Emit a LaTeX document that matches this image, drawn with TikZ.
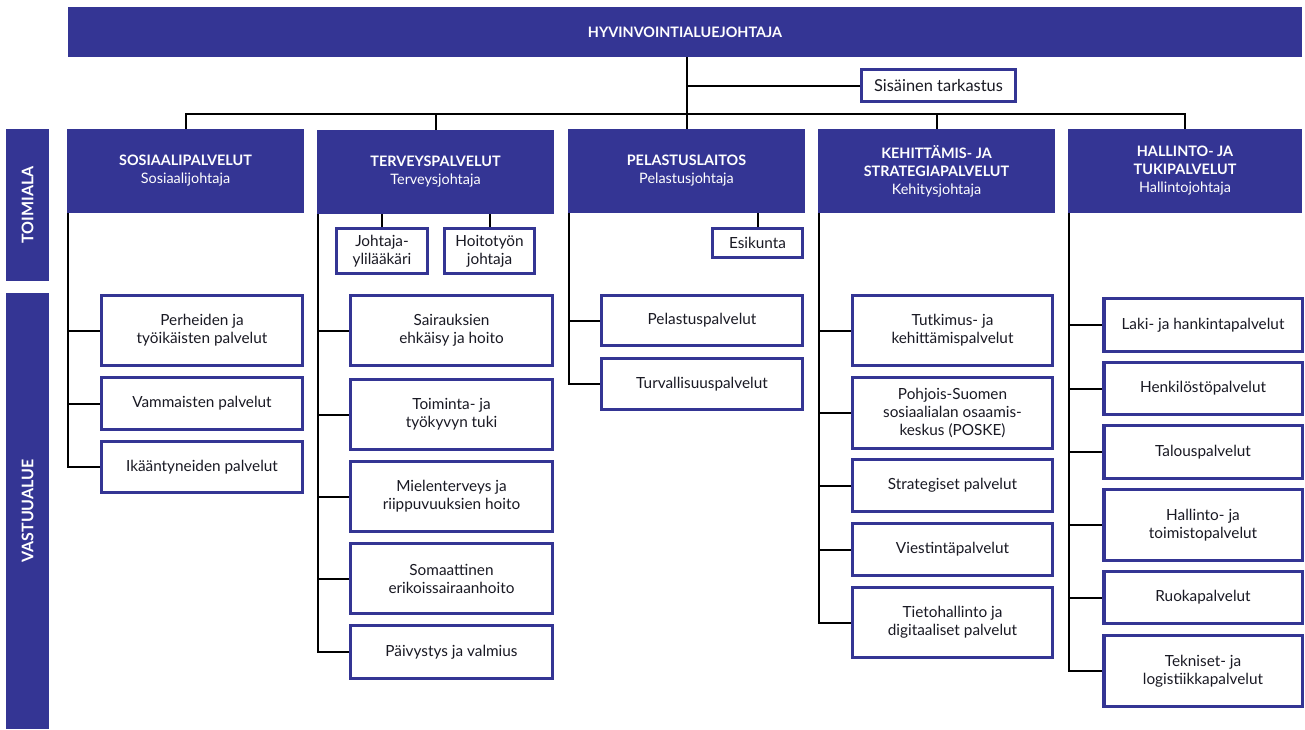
\documentclass[tikz,border=0pt]{standalone}
\usepackage{fontspec}
\setmainfont{Lato}
\usetikzlibrary{calc}
\definecolor{hvblue}{RGB}{52,53,148}
\definecolor{ink}{RGB}{25,25,35}
\tikzset{
  wh/.style 2 args={minimum width=#1*0.75pt, minimum height=#2*0.75pt},
  head/.style={fill=hvblue, text=white, inner sep=0pt, align=center,
    font=\fontsize{10.8}{13.5}\selectfont\bfseries},
  side/.style={head, rotate=90, font=\fontsize{12}{13}\selectfont\bfseries},
  unit/.style={draw=hvblue, line width=2.6pt, fill=white, text=ink, inner sep=0pt,
    align=center, font=\fontsize{11.5}{13.5}\selectfont},
  link/.style={line width=1.5pt, black},
}

\begin{document}
\begin{tikzpicture}[x=0.75pt, y=-0.75pt]
\useasboundingbox (0,0) rectangle (1305,729);
% top level
\node[head, wh={1234}{50}] (top) at (685,32) {HYVINVOINTIALUEJOHTAJA};
\node[unit, wh={153.5}{31.5}, font=\fontsize{12.3}{13.5}\selectfont] (sis) at (938.5,85.5) {Sisäinen tarkastus};
\coordinate (bus) at (686.5,114);
% side labels
\node[side, wh={152}{43}] (toimiala) at (27.5,205) {TOIMIALA};
\node[side, wh={436}{43}] (vastuu) at (27.5,511) {VASTUUALUE};
% toimialat
\node[head, wh={237}{84}] (sos) at (185.5,171) {SOSIAALIPALVELUT\\ \mdseries Sosiaalijohtaja};
\node[head, wh={237}{84}] (ter) at (435.5,172) {TERVEYSPALVELUT\\ \mdseries Terveysjohtaja};
\node[head, wh={237}{84}] (pel) at (686.5,171) {PELASTUSLAITOS\\ \mdseries Pelastusjohtaja};
\node[head, wh={237}{84}] (keh) at (936.5,171) {KEHITTÄMIS- JA\\ STRATEGIAPALVELUT\\ \mdseries Kehitysjohtaja};
\node[head, wh={234}{84}] (hal) at (1185,171) {HALLINTO- JA\\ TUKIPALVELUT\\ \mdseries Hallintojohtaja};
% staff boxes
\node[unit, wh={90.5}{44.5}] (joh) at (382,251) {Johtaja-\\ ylilääkäri};
\node[unit, wh={89.5}{44.5}] (hoi) at (489.5,251) {Hoitotyön\\ johtaja};
\node[unit, wh={89.5}{28.5}] (esi) at (757.5,243) {Esikunta};
% sosiaalipalvelut
\node[unit, wh={200.5}{69.5}] (perh) at (202,330.5) {Perheiden ja\\ työikäisten palvelut};
\node[unit, wh={200.5}{51.5}] (vamm) at (202,403.5) {Vammaisten palvelut};
\node[unit, wh={200.5}{50.5}] (ika) at (202,467) {Ikääntyneiden palvelut};
% terveyspalvelut
\node[unit, wh={201.5}{69.5}] (sair) at (451.5,330.5) {Sairauksien\\ ehkäisy ja hoito};
\node[unit, wh={201.5}{69.5}] (toim) at (451.5,414.5) {Toiminta- ja\\ työkyvyn tuki};
\node[unit, wh={201.5}{69.5}] (miel) at (451.5,496.5) {Mielenterveys ja\\ riippuvuuksien hoito};
\node[unit, wh={201.5}{69.5}] (soma) at (451.5,578.5) {Somaattinen\\ erikoissairaanhoito};
\node[unit, wh={201.5}{52.5}] (paiv) at (451.5,652) {Päivystys ja valmius};
% pelastuslaitos
\node[unit, wh={200.5}{49.5}] (pelp) at (702,320.5) {Pelastuspalvelut};
\node[unit, wh={200.5}{50.5}] (turv) at (702,384) {Turvallisuuspalvelut};
% kehittamis- ja strategiapalvelut
\node[unit, wh={199.5}{69.5}] (tutk) at (952.5,330.5) {Tutkimus- ja\\ kehittämispalvelut};
\node[unit, wh={199.5}{70.5}] (posk) at (952.5,413) {Pohjois-Suomen\\ sosiaalialan osaamis-\\ keskus (POSKE)};
\node[unit, wh={199.5}{51.5}] (stra) at (952.5,485.5) {Strategiset palvelut};
\node[unit, wh={199.5}{51.5}] (vies) at (952.5,549.5) {Viestintäpalvelut};
\node[unit, wh={199.5}{69.5}] (tiet) at (952.5,622.5) {Tietohallinto ja\\ digitaaliset palvelut};
% hallinto- ja tukipalvelut
\node[unit, wh={198.5}{52.5}] (laki) at (1203,325) {Laki- ja hankintapalvelut};
\node[unit, wh={198.5}{51.5}] (henk) at (1203,388.5) {Henkilöstöpalvelut};
\node[unit, wh={198.5}{52.5}] (talo) at (1203,452) {Talouspalvelut};
\node[unit, wh={198.5}{70.5}] (halt) at (1203,525) {Hallinto- ja\\ toimistopalvelut};
\node[unit, wh={198.5}{51.5}] (ruok) at (1203,597.5) {Ruokapalvelut};
\node[unit, wh={198.5}{70.5}] (tekn) at (1203,671) {Tekniset- ja\\ logistiikkapalvelut};

% connectors
\draw[link] (top.south -| pel.north) -- (pel.north);
\draw[link] (sis.west) -- (sis.west -| pel.north);
\draw[link] (sos.north) |- (bus) -| (hal.north);
\draw[link] (ter.north) -- (ter.north |- bus);
\draw[link] (keh.north) -- (keh.north |- bus);
\draw[link] (joh.north) -- (joh.north |- ter.south);
\draw[link] (hoi.north) -- (hoi.north |- ter.south);
\draw[link] (esi.north) -- (esi.north |- pel.south);

\draw[link] ([xshift=1pt]sos.south west) |- (ika.west);
\foreach \b in {perh,vamm}
  \draw[link] ([xshift=1pt]sos.south west |- \b.west) -- (\b.west);
\draw[link] ([xshift=1pt]ter.south west) |- (paiv.west);
\foreach \b in {sair,toim,miel,soma}
  \draw[link] ([xshift=1pt]ter.south west |- \b.west) -- (\b.west);
\draw[link] ([xshift=1pt]pel.south west) |- (turv.west);
\draw[link] ([xshift=1pt]pel.south west |- pelp.west) -- (pelp.west);
\draw[link] ([xshift=1pt]keh.south west) |- (tiet.west);
\foreach \b in {tutk,posk,stra,vies}
  \draw[link] ([xshift=1pt]keh.south west |- \b.west) -- (\b.west);
\draw[link] ([xshift=1pt]hal.south west) |- (tekn.west);
\foreach \b in {laki,henk,talo,halt,ruok}
  \draw[link] ([xshift=1pt]hal.south west |- \b.west) -- (\b.west);
\end{tikzpicture}
\end{document}
